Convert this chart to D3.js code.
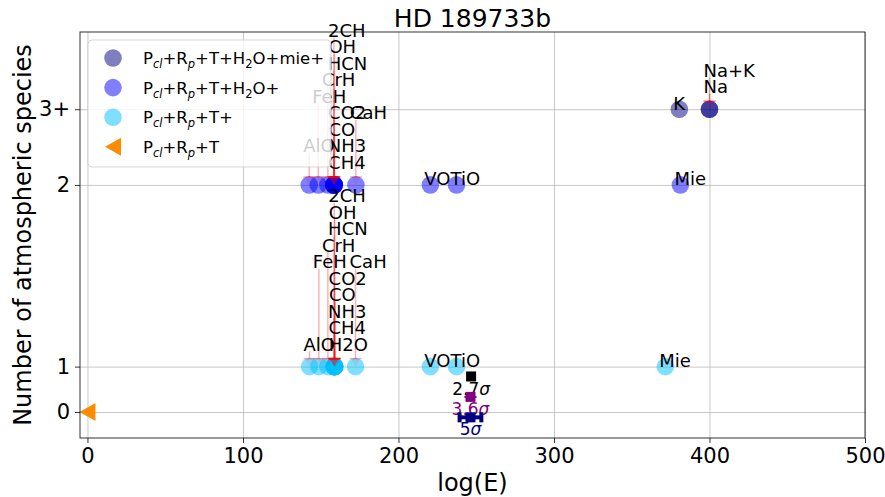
<!DOCTYPE html>
<html>
<head>
<meta charset="utf-8">
<script src="https://cdn.jsdelivr.net/npm/d3@7"></script>
<style>
body { margin: 0; background: #fff; }
text { font-family: "DejaVu Sans", sans-serif; }
</style>
</head>
<body>
<div id="container"></div>
<script>
// y levels: value used on the axis, and its label
var levelTicks = [0, 0.6, 3, 4];
var levelLabels = ["0", "1", "2", "3+"];
var xTicks = [0, 100, 200, 300, 400, 500];

// P_cl+R_p+T (no extra species)
var baseLogE = [0];
var baseLevel = [0];

// P_cl+R_p+T+ one species
var tSpecies = ["AlO", "FeH", "CrH", "H2O", "CH4", "NH3", "CO", "CO2", "HCN", "OH", "2CH", "CaH", "VO", "TiO", "Mie"];
var tLogE    = [142.8, 148.8, 154.6, 159.0, 158.8, 158.6, 159.2, 158.9, 158.6, 159.0, 158.7, 172.4, 220.5, 237.3, 371.6];
var tRank    = [1, 6, 7, 1, 2, 3, 4, 5, 8, 9, 10, 6, 0, 0, 0];

// P_cl+R_p+T+H2O+ one species
var wSpecies = ["AlO", "FeH", "CrH", "CH4", "NH3", "CO", "CO2", "HCN", "OH", "2CH", "CaH", "VO", "TiO", "Mie"];
var wLogE    = [142.6, 148.4, 154.6, 158.6, 158.4, 158.8, 158.6, 158.3, 158.8, 158.5, 172.6, 220.5, 237.3, 381.3];
var wRank    = [2, 5, 6, 1, 2, 3, 4, 7, 8, 9, 4, 0, 0, 0];

// P_cl+R_p+T+H2O+mie+ species
var mSpecies = ["K", "Na", "Na+K"];
var mLogE    = [380.6, 400.0, 400.0];
var mRank    = [0, 1, 2];

// significance markers
var sigLogE  = [246.7, 246.3, 246.3];
var sigLevel = [0.47, 0.2, -0.07];
var sigErr   = [0, 3.9, 7];
var sigNum   = ["2.7", "3.6", "5"];
var sigColor = ["black", "purple", "navy"];

var legendColors = ["navy", "blue", "deepskyblue", "darkorange"];
var legendLabels = [
    [["P"], ["cl", 1], ["+R"], ["p", 1], ["+T+H"], ["2", 2], ["O+mie+"]],
    [["P"], ["cl", 1], ["+R"], ["p", 1], ["+T+H"], ["2", 2], ["O+"]],
    [["P"], ["cl", 1], ["+R"], ["p", 1], ["+T+"]],
    [["P"], ["cl", 1], ["+R"], ["p", 1], ["+T"]]
];

var width = 885, height = 497;
var margin = {top: 32, right: 20, bottom: 59, left: 80};

var svg = d3.select("#container").append("svg")
    .attr("width", width)
    .attr("height", height);

var x = d3.scaleLinear().domain([-4.8, 500]).range([margin.left, width - margin.right]);
var y = d3.scaleLinear().domain([-0.343, 5.02]).range([height - margin.bottom, margin.top]);

// grid
svg.append("g")
    .attr("transform", "translate(0," + (height - margin.bottom) + ")")
    .call(d3.axisBottom(x).tickValues(xTicks).tickSize(-(height - margin.top - margin.bottom)).tickFormat(""))
    .call(function(g) { g.select(".domain").remove(); })
    .selectAll("line").attr("stroke", "#b0b0b0").attr("stroke-opacity", 0.7);
svg.append("g")
    .attr("transform", "translate(" + margin.left + ",0)")
    .call(d3.axisLeft(y).tickValues(levelTicks).tickSize(-(width - margin.left - margin.right)).tickFormat(""))
    .call(function(g) { g.select(".domain").remove(); })
    .selectAll("line").attr("stroke", "#b0b0b0").attr("stroke-opacity", 0.7);

// points
function series(names, logE, rank, level) {
    return names.map(function(n, i) {
        return {name: n, logE: logE[i], rank: rank[i], level: level};
    });
}
var groups = [
    {color: "deepskyblue", data: series(tSpecies, tLogE, tRank, levelTicks[1])},
    {color: "blue", data: series(wSpecies, wLogE, wRank, levelTicks[2])},
    {color: "navy", data: series(mSpecies, mLogE, mRank, levelTicks[3])}
];

function labelY(d) { return y(d.level) - (6 + 16.5 * d.rank); }

groups.forEach(function(gr) {
    svg.append("g").selectAll("circle")
        .data(gr.data)
        .enter().append("circle")
        .attr("cx", function(d) { return x(d.logE); })
        .attr("cy", function(d) { return y(d.level); })
        .attr("r", 8.8)
        .attr("fill", gr.color)
        .attr("fill-opacity", 0.5);
});

svg.append("g").selectAll("path")
    .data(baseLogE)
    .enter().append("path")
    .attr("d", function(d, i) {
        var cx = x(d), cy = y(baseLevel[i]);
        return "M" + (cx - 8) + "," + cy + "L" + (cx + 8) + "," + (cy - 9) + "L" + (cx + 8) + "," + (cy + 9) + "Z";
    })
    .attr("fill", "darkorange");

// red limit lines
groups.forEach(function(gr) {
    var lim = gr.data.filter(function(d) { return d.rank > 0; });
    var g = svg.append("g").attr("stroke", "red").attr("stroke-opacity", 0.3).attr("stroke-width", 1.5);
    g.selectAll(".v").data(lim).enter().append("line")
        .attr("x1", function(d) { return x(d.logE); })
        .attr("x2", function(d) { return x(d.logE); })
        .attr("y1", function(d) { return y(d.level) - 8; })
        .attr("y2", function(d) { return labelY(d) + 7; });
    g.selectAll(".c").data(lim).enter().append("line")
        .attr("x1", function(d) { return x(d.logE) - 6; })
        .attr("x2", function(d) { return x(d.logE) + 6; })
        .attr("y1", function(d) { return y(d.level) - 8; })
        .attr("y2", function(d) { return y(d.level) - 8; });
    svg.append("g").selectAll("path").data(lim).enter().append("path")
        .attr("d", function(d) {
            var cx = x(d.logE), cy = y(d.level) - 8;
            return "M" + (cx - 5) + "," + cy + "L" + (cx + 5) + "," + cy + "L" + cx + "," + (cy + 8) + "Z";
        })
        .attr("fill", "red").attr("fill-opacity", 0.08);
});

// species labels
groups.forEach(function(gr) {
    svg.append("g").selectAll("text")
        .data(gr.data)
        .enter().append("text")
        .attr("x", function(d) { return x(d.logE) - 6; })
        .attr("y", labelY)
        .attr("dy", "0.36em")
        .attr("font-size", 18)
        .attr("fill", "black")
        .text(function(d) { return d.name; });
});

// significance markers
var sg = svg.append("g");
sigLogE.forEach(function(v, i) {
    var cx = x(v), cy = y(sigLevel[i]), c = sigColor[i];
    if (sigErr[i] > 0) {
        var x0 = x(v - sigErr[i]), x1 = x(v + sigErr[i]);
        sg.append("line").attr("x1", x0).attr("x2", x1).attr("y1", cy).attr("y2", cy)
            .attr("stroke", c).attr("stroke-width", i === 2 ? 4 : 2);
        if (i === 2) {
            [x0, x1].forEach(function(px) {
                sg.append("rect").attr("x", px - 2).attr("y", cy - 5).attr("width", 4).attr("height", 10).attr("fill", c);
            });
        }
    }
    sg.append("rect").attr("x", cx - 5).attr("y", cy - 5).attr("width", 10).attr("height", 10).attr("fill", c);
    var t = sg.append("text").attr("x", cx).attr("y", cy + 12).attr("dy", "0.36em")
        .attr("text-anchor", "middle").attr("font-size", 17).attr("fill", c);
    t.append("tspan").text(sigNum[i]);
    t.append("tspan").attr("font-style", "italic").text("\u03c3");
});

// axes
var xAxis = svg.append("g")
    .attr("transform", "translate(0," + (height - margin.bottom) + ")")
    .call(d3.axisBottom(x).tickValues(xTicks).tickSize(5).tickPadding(5).tickFormat(d3.format("d")));
var yAxis = svg.append("g")
    .attr("transform", "translate(" + margin.left + ",0)")
    .call(d3.axisLeft(y).tickValues(levelTicks).tickSize(5).tickPadding(5)
        .tickFormat(function(d, i) { return levelLabels[i]; }));
[xAxis, yAxis].forEach(function(a) {
    a.select(".domain").remove();
    a.selectAll("text").attr("font-size", 21).attr("font-family", "DejaVu Sans").attr("fill", "black");
    a.selectAll("line").attr("stroke", "black").attr("stroke-width", 0.8);
});
svg.append("rect")
    .attr("x", margin.left).attr("y", margin.top)
    .attr("width", width - margin.left - margin.right)
    .attr("height", height - margin.top - margin.bottom)
    .attr("fill", "none").attr("stroke", "black").attr("stroke-width", 0.8);

// legend
var lg = svg.append("g");
lg.append("rect")
    .attr("x", 88).attr("y", 40).attr("width", 243).attr("height", 127).attr("rx", 4)
    .attr("fill", "white").attr("fill-opacity", 0.8)
    .attr("stroke", "#cccccc").attr("stroke-opacity", 0.8);
legendLabels.forEach(function(parts, i) {
    var ly = 58 + i * 29.6;
    if (i < 3) {
        lg.append("circle").attr("cx", 113).attr("cy", ly).attr("r", 8.8)
            .attr("fill", legendColors[i]).attr("fill-opacity", 0.5);
    } else {
        lg.append("path").attr("d", "M105," + ly + "L121," + (ly - 9) + "L121," + (ly + 9) + "Z")
            .attr("fill", legendColors[i]);
    }
    var t = lg.append("text").attr("x", 143).attr("y", ly).attr("dy", "0.36em").attr("font-size", 16.5);
    var down = false;
    parts.forEach(function(p) {
        var s = t.append("tspan").text(p[0]);
        if (p[1]) {
            s.attr("font-size", 11.5).attr("dy", down ? 0 : 4);
            if (p[1] === 1) s.attr("font-style", "italic");
            down = true;
        } else if (down) {
            s.attr("dy", -4);
            down = false;
        }
    });
});

// titles
svg.append("text")
    .attr("x", (margin.left + width - margin.right) / 2).attr("y", 27)
    .attr("text-anchor", "middle").attr("font-size", 25)
    .text("HD 189733b");
svg.append("text")
    .attr("x", (margin.left + width - margin.right) / 2).attr("y", 491)
    .attr("text-anchor", "middle").attr("font-size", 24)
    .text("log(E)");
svg.append("text")
    .attr("transform", "translate(31," + ((margin.top + height - margin.bottom) / 2) + ") rotate(-90)")
    .attr("text-anchor", "middle").attr("font-size", 24)
    .text("Number of atmospheric species");
</script>
</body>
</html>
